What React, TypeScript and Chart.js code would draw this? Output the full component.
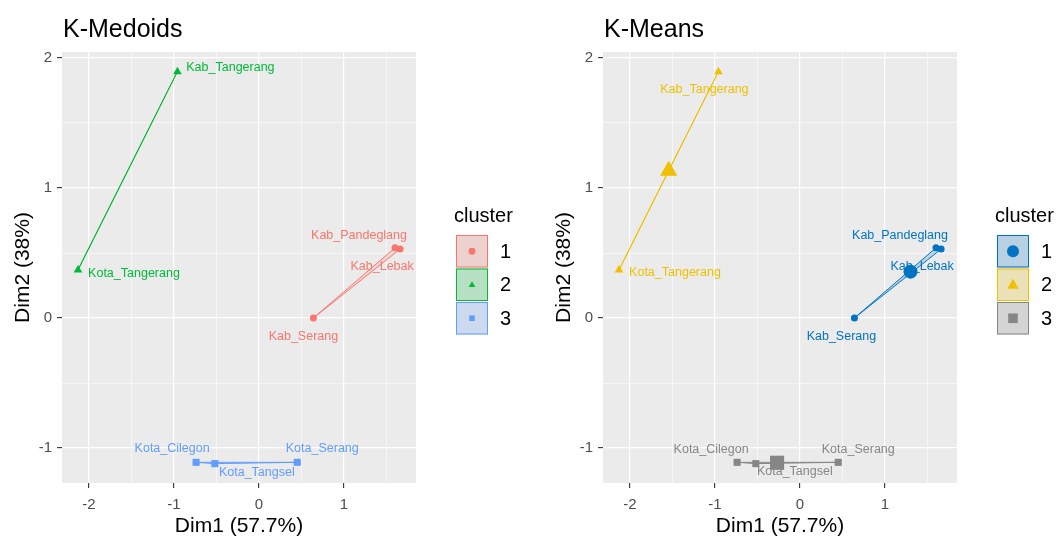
import React, { useEffect, useRef } from 'react';
import { Chart, registerables } from 'chart.js';

Chart.register(...registerables);

// ---------- data ----------
const regions = ['Kab_Pandeglang', 'Kab_Lebak', 'Kab_Tangerang', 'Kab_Serang', 'Kota_Tangerang', 'Kota_Cilegon', 'Kota_Serang', 'Kota_Tangsel'];
const dim1 = [1.6, 1.66, -0.96, 0.64, -2.13, -0.74, 0.45, -0.52];
const dim2 = [0.54, 0.53, 1.895, 0.0, 0.37, -1.11, -1.11, -1.12];
const clusterKMedoids = [1, 1, 2, 1, 2, 3, 3, 3];
const clusterKMeans = [1, 1, 2, 1, 2, 3, 3, 3];
const clusterIds = [1, 2, 3];
const xTicks = [-2, -1, 0, 1];
const yTicks = [-1, 0, 1, 2];
const xLimits = [-2.318, 1.847];
const yLimits = [-1.269, 2.046];

// ---------- styling ----------
const FONT = '"Liberation Sans", Arial, Helvetica, sans-serif';
const paletteMedoids = ['#F8766D', '#00BA38', '#619CFF'];
const paletteMeans = ['#0073C2', '#EFC000', '#868686'];
const shapes = ['circle', 'triangle', 'rect'];
const labelOffsetsMedoids = [[-36, -12], [-18, 17], [53, -4], [-10, 19], [56, 4], [-24, -14], [25, -14], [42, 9]];
const labelOffsetsMeans = [[-36, -12], [-19, 17], [-14, 18], [-13, 19], [56, 3], [-26, -13], [20, -13], [39, 8]];

function rgba(hex: string, a: number) {
  const n = parseInt(hex.slice(1), 16);
  return `rgba(${(n >> 16) & 255},${(n >> 8) & 255},${n & 255},${a})`;
}

function convexHull(pts: { x: number; y: number }[]) {
  const p = pts.slice().sort((a, b) => (a.x - b.x) || (a.y - b.y));
  if (p.length < 3) return p;
  const cross = (o: any, a: any, b: any) => (a.x - o.x) * (b.y - o.y) - (a.y - o.y) * (b.x - o.x);
  const lower: any[] = [];
  for (const q of p) {
    while (lower.length >= 2 && cross(lower[lower.length - 2], lower[lower.length - 1], q) <= 0) lower.pop();
    lower.push(q);
  }
  const upper: any[] = [];
  for (let i = p.length - 1; i >= 0; i--) {
    const q = p[i];
    while (upper.length >= 2 && cross(upper[upper.length - 2], upper[upper.length - 1], q) <= 0) upper.pop();
    upper.push(q);
  }
  upper.pop();
  lower.pop();
  return lower.concat(upper);
}

function drawShape(ctx: CanvasRenderingContext2D, shape: string, x: number, y: number, r: number) {
  ctx.beginPath();
  if (shape === 'circle') {
    ctx.arc(x, y, r, 0, Math.PI * 2);
  } else if (shape === 'triangle') {
    ctx.moveTo(x, y - r);
    ctx.lineTo(x + r * 0.95, y + r * 0.65);
    ctx.lineTo(x - r * 0.95, y + r * 0.65);
    ctx.closePath();
  } else {
    const s = r * 0.8;
    ctx.rect(x - s, y - s, 2 * s, 2 * s);
  }
  ctx.fill();
}

type PanelProps = {
  title: string;
  assign: number[];
  palette: string[];
  offsets: number[][];
  showCenters: boolean;
  left: number;
  width: number;
};

function Panel(props: PanelProps) {
  const ref = useRef<HTMLCanvasElement | null>(null);
  useEffect(() => {
    const { title, assign, palette, offsets, showCenters, width } = props;
    const datasets: any[] = [];
    clusterIds.forEach((c, k) => {
      const members = regions.map((_, i) => i).filter((i) => assign[i] === c);
      const pts = members.map((i) => ({ x: dim1[i], y: dim2[i] }));
      const hull = convexHull(pts);
      hull.push(hull[0]);
      datasets.push({
        type: 'line',
        data: hull,
        borderColor: palette[k],
        borderWidth: 1,
        backgroundColor: rgba(palette[k], 0.2),
        fill: 'shape',
        pointRadius: 0,
        pointHoverRadius: 0,
        tension: 0,
        order: 3,
      });
      datasets.push({
        type: 'scatter',
        data: pts,
        pointStyle: shapes[k],
        pointRadius: k === 0 ? 3.5 : k === 1 ? 5 : 5,
        backgroundColor: palette[k],
        borderColor: palette[k],
        borderWidth: 0,
        order: 2,
      });
      if (showCenters) {
        const cx = pts.reduce((s, p) => s + p.x, 0) / pts.length;
        const cy = pts.reduce((s, p) => s + p.y, 0) / pts.length;
        datasets.push({
          type: 'scatter',
          data: [{ x: cx, y: cy }],
          pointStyle: shapes[k],
          pointRadius: k === 0 ? 7 : 10,
          backgroundColor: palette[k],
          borderColor: palette[k],
          borderWidth: 0,
          order: 1,
        });
      }
    });

    const decor = {
      id: 'decor',
      beforeDraw(chart: any) {
        const { ctx, chartArea: a } = chart;
        ctx.save();
        ctx.fillStyle = '#EBEBEB';
        ctx.fillRect(a.left, a.top, a.right - a.left, a.bottom - a.top);
        ctx.restore();
      },
      afterDatasetsDraw(chart: any) {
        const { ctx } = chart;
        const xs = chart.scales.x;
        const ys = chart.scales.y;
        ctx.save();
        ctx.font = `12.5px ${FONT}`;
        ctx.textAlign = 'center';
        ctx.textBaseline = 'middle';
        regions.forEach((name, i) => {
          const k = clusterIds.indexOf(assign[i]);
          ctx.fillStyle = palette[k];
          ctx.fillText(name, xs.getPixelForValue(dim1[i]) + offsets[i][0], ys.getPixelForValue(dim2[i]) + offsets[i][1]);
        });
        ctx.restore();
      },
      afterDraw(chart: any) {
        const { ctx, chartArea: a } = chart;
        ctx.save();
        ctx.fillStyle = '#000000';
        ctx.font = `25px ${FONT}`;
        ctx.textAlign = 'left';
        ctx.textBaseline = 'alphabetic';
        ctx.fillText(title, a.left + 1, 37);
        ctx.font = `20px ${FONT}`;
        ctx.fillText('cluster', a.right + 38, 222);
        clusterIds.forEach((c, k) => {
          const x0 = a.right + 40;
          const y0 = 235 + k * 33.5;
          const w = 32;
          const h = 32.5;
          ctx.fillStyle = '#EBEBEB';
          ctx.fillRect(x0, y0, w, h);
          ctx.fillStyle = rgba(palette[k], 0.22);
          ctx.fillRect(x0, y0, w, h);
          ctx.strokeStyle = palette[k];
          ctx.lineWidth = 1;
          ctx.strokeRect(x0 + 0.5, y0 + 0.5, w - 1, h - 1);
          ctx.fillStyle = palette[k];
          drawShape(ctx, shapes[k], x0 + w / 2, y0 + h / 2, showCenters ? 6 : 3.5);
          ctx.fillStyle = '#000000';
          ctx.font = `20px ${FONT}`;
          ctx.textBaseline = 'middle';
          ctx.fillText(String(c), a.right + 84, y0 + h / 2 + 1);
        });
        ctx.restore();
      },
    };

    const isMajorX = (v: number) => xTicks.includes(v);
    const isMajorY = (v: number) => yTicks.includes(v);
    const gridFor = (isMajor: (v: number) => boolean) => ({
      color: (c: any) => (isMajor(c.tick?.value) ? '#FFFFFF' : 'rgba(255,255,255,0.9)'),
      lineWidth: (c: any) => (isMajor(c.tick?.value) ? 1.2 : 0.6),
      tickColor: (c: any) => (isMajor(c.tick?.value) ? '#333333' : 'rgba(0,0,0,0)'),
      tickLength: 5,
      tickWidth: 1.1,
      drawTicks: true,
      drawOnChartArea: true,
    });

    const chart = new Chart(ref.current as HTMLCanvasElement, {
      type: 'scatter',
      data: { datasets },
      options: {
        animation: false,
        responsive: false,
        devicePixelRatio: 1,
        events: [],
        layout: { padding: { top: 52, right: width - 416, left: 0, bottom: 0 } },
        plugins: { legend: { display: false }, tooltip: { enabled: false }, title: { display: false } },
        scales: {
          x: {
            type: 'linear',
            min: xLimits[0],
            max: xLimits[1],
            afterFit: (s: any) => { s.height = 56; },
            border: { display: false },
            grid: gridFor(isMajorX),
            ticks: {
              stepSize: 0.5,
              includeBounds: false,
              autoSkip: false,
              maxRotation: 0,
              padding: 8,
              color: '#4D4D4D',
              font: { family: FONT, size: 15 },
              callback: (v: any) => (xTicks.includes(v) ? String(v) : ''),
            },
            title: { display: true, text: 'Dim1 (57.7%)', color: '#000000', font: { family: FONT, size: 21 }, padding: { top: 0, bottom: 0 } },
          },
          y: {
            type: 'linear',
            min: yLimits[0],
            max: yLimits[1],
            afterFit: (s: any) => { s.width = 62; },
            border: { display: false },
            grid: gridFor(isMajorY),
            ticks: {
              stepSize: 0.5,
              includeBounds: false,
              autoSkip: false,
              padding: 5,
              color: '#4D4D4D',
              font: { family: FONT, size: 15 },
              callback: (v: any) => (yTicks.includes(v) ? String(v) : ''),
            },
            title: { display: true, text: 'Dim2 (38%)', color: '#000000', font: { family: FONT, size: 21 }, padding: { top: 11, bottom: 0 } },
          },
        },
      } as any,
      plugins: [decor],
    });
    return () => chart.destroy();
  }, []);

  return (
    <div style={{ position: 'absolute', left: props.left, top: 0, width: props.width, height: 539 }}>
      <canvas ref={ref} width={props.width} height={539} style={{ width: props.width, height: 539, display: 'block' }} />
    </div>
  );
}

export default function App() {
  return (
    <div style={{ position: 'fixed', left: 0, top: 0, width: 1060, height: 539, background: '#FFFFFF', overflow: 'hidden' }}>
      <Panel title="K-Medoids" assign={clusterKMedoids} palette={paletteMedoids} offsets={labelOffsetsMedoids} showCenters={false} left={0} width={530} />
      <Panel title="K-Means" assign={clusterKMeans} palette={paletteMeans} offsets={labelOffsetsMeans} showCenters={true} left={541} width={519} />
    </div>
  );
}
